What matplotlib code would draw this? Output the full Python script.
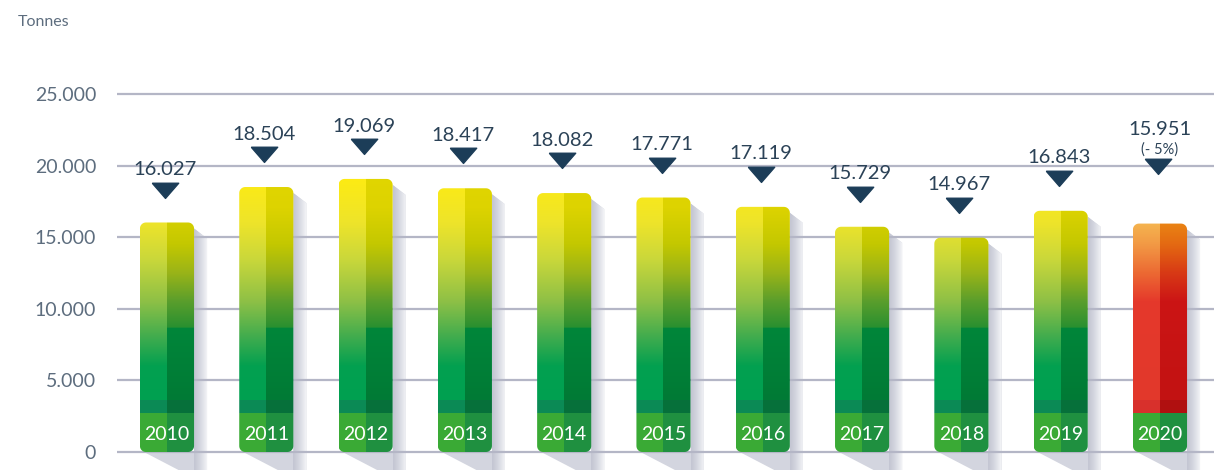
import numpy as np
import matplotlib.pyplot as plt
from matplotlib.patches import PathPatch, Polygon
from matplotlib.path import Path
from matplotlib.colors import to_rgb

plt.rcParams['font.family'] = ['Lato', 'DejaVu Sans']

years = ['2010', '2011', '2012', '2013', '2014', '2015', '2016', '2017', '2018', '2019', '2020']
tonnes = [16027, 18504, 19069, 18417, 18082, 17771, 17119, 15729, 14967, 16843, 15951]
labels = ['16.027', '18.504', '19.069', '18.417', '18.082', '17.771', '17.119', '15.729', '14.967', '16.843', '15.951']
notes = ['', '', '', '', '', '', '', '', '', '', '(- 5%)']
yticks = [0, 5000, 10000, 15000, 20000, 25000]
ytick_labels = ['0', '5.000', '10.000', '15.000', '20.000', '25.000']

text_col = '#5d6d7e'
label_col = '#2b4257'
marker_col = '#1c3d58'
grid_col = '#b4b6c6'

# gradient stops (value in tonnes, colour) for left / right half of each bar
green_left = [(0, '#3aaa35'), (2700, '#3aaa35'), (2720, '#0b8a55'), (3600, '#0b8a55'),
              (3620, '#00a050'), (6000, '#03a050'), (8000, '#40ac4e'), (10500, '#8ec046'),
              (13500, '#cbd83a'), (16000, '#eee42a'), (19500, '#ffec10')]
green_right = [(0, '#1f9040'), (2700, '#1f9040'), (2720, '#06703a'), (3600, '#06703a'),
               (3620, '#007a35'), (8600, '#00863a'), (8700, '#2a9030'), (10500, '#5a9e2c'),
               (12500, '#9ab418'), (14500, '#c4c800'), (17000, '#ddd300'), (19500, '#e2d600')]
red_left = [(0, '#3aaa35'), (2700, '#3aaa35'), (2720, '#d8302c'), (3600, '#d8302c'),
            (3620, '#e2382c'), (10500, '#e5392b'), (12500, '#ec6a33'), (14500, '#f29a45'),
            (16000, '#f5b550')]
red_right = [(0, '#1f9040'), (2700, '#1f9040'), (2720, '#b01010'), (3600, '#b01010'),
             (3620, '#c21212'), (10500, '#cc1515'), (12500, '#d83a15'), (14500, '#e46a12'),
             (16000, '#ea8414')]


def ramp(stops, ys):
    vals = [s[0] for s in stops]
    cols = np.array([to_rgb(s[1]) for s in stops])
    return np.stack([np.interp(ys, vals, cols[:, k]) for k in range(3)], axis=1)


def rounded_rect(x0, y0, w, h, rx, ry):
    pts = []
    corners = [(x0 + w - rx, y0 + ry, -90), (x0 + w - rx, y0 + h - ry, 0),
               (x0 + rx, y0 + h - ry, 90), (x0 + rx, y0 + ry, 180)]
    for cx, cy, a0 in corners:
        for a in np.radians(np.linspace(a0, a0 + 90, 10)):
            pts.append((cx + rx * np.cos(a), cy + ry * np.sin(a)))
    pts.append(pts[0])
    return Path(pts)


fig = plt.figure(figsize=(12.14, 4.70), dpi=100)
ax = fig.add_axes([117 / 1214, 0, 1 - 117 / 1214, 1])
ax.set_xlim(-0.5035, 10.544)
ax.set_ylim(-1257, 31564)

for t in yticks:
    ax.axhline(t, color=grid_col, lw=1.6, zorder=1.7)

ax.set_yticks(yticks)
ax.set_yticklabels(ytick_labels, fontsize=14, color=text_col)
ax.tick_params(axis='y', length=0, pad=15)
ax.set_xticks([])
for s in ax.spines.values():
    s.set_visible(False)

w = 0.545
px_x = 1 / 99.3
px_y = 1000 / 14.32
ys = np.linspace(0, 19500, 800)
tri = [(-1, 0.55), (1, 0.55), (0, -0.6), (-1, 0.55)]
shade = np.array(to_rgb('#c4c6d3'))

for i, (yr, v) in enumerate(zip(years, tonnes)):
    x0, x1 = i - w / 2, i + w / 2
    # shadow
    shadow = Polygon([(x1, v - 6 * px_y), (x1 + 13 * px_x, v - 16 * px_y), (x1 + 13 * px_x, -1300),
                      (x0 + 0.40, -1300), (x0 + 0.04, 0), (x1, 0)],
                     closed=True, facecolor='#d3d5df', edgecolor='none', zorder=1)
    ax.add_patch(shadow)
    sh_img = shade + np.linspace(0, 1, 50)[None, :, None] ** 1.3 * (np.array(to_rgb('#f2f3f6')) - shade)
    im_s = ax.imshow(np.repeat(sh_img, 2, axis=0), extent=[x1, x1 + 13 * px_x, -1300, v], aspect='auto',
                     origin='lower', zorder=1.5, interpolation='bilinear')
    im_s.set_clip_path(shadow)

    left, right = (red_left, red_right) if yr == '2020' else (green_left, green_right)
    img = np.zeros((len(ys), 2, 3))
    img[:, 0] = ramp(left, ys)
    img[:, 1] = ramp(right, ys)
    box = PathPatch(rounded_rect(x0, 0, w, v, 6 * px_x, 6 * px_y),
                    facecolor='none', edgecolor='none', zorder=2)
    ax.add_patch(box)
    im = ax.imshow(img, extent=[x0, x1, 0, 19500], aspect='auto', origin='lower',
                   interpolation='nearest', zorder=2)
    im.set_clip_path(box)

    ax.text(i, 1250, yr, ha='center', va='center', fontsize=14, color='white', zorder=3)

    tri_y = v + (4000 if notes[i] else 2300)
    ax.plot(i - 0.02, tri_y, marker=tri, markersize=19, color=marker_col, zorder=3, lw=0)
    if notes[i]:
        ax.text(i, tri_y + 700, notes[i], ha='center', va='bottom', fontsize=10.5, color=label_col)
        ax.text(i, tri_y + 2000, labels[i], ha='center', va='bottom', fontsize=14.5, color=label_col)
    else:
        ax.text(i - 0.02, tri_y + 800, labels[i], ha='center', va='bottom', fontsize=14.5, color=label_col)

fig.text(18 / 1214, 1 - 22 / 470, 'Tonnes', ha='left', va='center', fontsize=11.5, color=text_col)

fig.savefig('out.png', dpi=100)
